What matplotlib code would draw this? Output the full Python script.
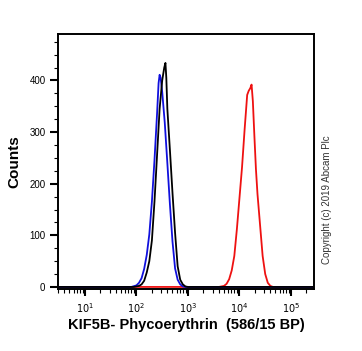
import matplotlib
matplotlib.use("Agg")
import matplotlib.pyplot as plt
import numpy as np
from matplotlib.ticker import LogLocator, MultipleLocator, FixedLocator

plt.rcParams['font.family'] = ['Liberation Sans', 'DejaVu Sans']

# log10 intensity positions and counts
blue_logx = [0.45, 1.90, 2.00, 2.05, 2.10, 2.15, 2.20, 2.25, 2.30, 2.35, 2.40, 2.43, 2.45,
             2.47, 2.50, 2.55, 2.60, 2.65, 2.70, 2.75, 2.80, 2.85, 2.90, 2.95, 5.45]
blue_counts = [0, 0, 3, 8, 17, 35, 62, 102, 165, 245, 335, 395, 411,
               405, 378, 318, 240, 160, 88, 36, 14, 5, 1, 0, 0]

black_logx = [0.45, 1.95, 2.05, 2.10, 2.15, 2.20, 2.25, 2.30, 2.35, 2.40, 2.45, 2.50, 2.54,
              2.563, 2.58, 2.60, 2.65, 2.70, 2.75, 2.80, 2.85, 2.90, 2.95, 3.00, 5.45]
black_counts = [0, 0, 2, 5, 12, 28, 50, 90, 165, 255, 345, 400, 425,
                434, 405, 345, 265, 182, 105, 40, 14, 5, 1, 0, 0]

red_logx = [0.45, 3.60, 3.70, 3.75, 3.80, 3.85, 3.90, 3.95, 4.00, 4.05, 4.10, 4.15, 4.18,
            4.21, 4.235, 4.26, 4.29, 4.32, 4.35, 4.40, 4.45, 4.50, 4.55, 4.60, 4.65, 5.45]
red_counts = [0, 0, 2, 6, 15, 32, 60, 112, 172, 232, 305, 372, 380,
              385, 392, 360, 292, 228, 180, 120, 60, 25, 8, 2, 0, 0]

y_ticks = [0, 100, 200, 300, 400]
x_ticks = [10, 100, 1000, 10000, 100000]
x_labels = [r'$10^1$', r'$10^2$', r'$10^3$', r'$10^4$', r'$10^5$']

fig = plt.figure(figsize=(3.62, 3.51), dpi=100)
ax = fig.add_axes([58/362, 1-289/351, (314-58)/362, (289-34)/351])

ax.plot(10**np.array(red_logx), red_counts, color='#ee1111', lw=1.3)
ax.plot(10**np.array(blue_logx), blue_counts, color='#1010dd', lw=1.3)
ax.plot(10**np.array(black_logx), black_counts, color='black', lw=1.3)

ax.set_xscale('log')
ax.set_xlim(3.0, 2.8e5)
ax.set_ylim(-4, 490)

ax.yaxis.set_major_locator(FixedLocator(y_ticks))
ax.yaxis.set_minor_locator(MultipleLocator(25))
ax.set_xticks(x_ticks)
ax.set_xticklabels(x_labels)
ax.xaxis.set_minor_locator(LogLocator(base=10, subs=np.arange(2, 10)))

ax.tick_params(axis='y', which='major', direction='out', length=6, width=1.5, labelsize=7, pad=3)
ax.tick_params(axis='y', which='minor', direction='out', length=3, width=0.8)
ax.tick_params(axis='x', which='major', direction='out', length=5, width=1.5, labelsize=7, pad=4)
ax.tick_params(axis='x', which='minor', direction='out', length=3, width=0.8)

for s in ax.spines.values():
    s.set_linewidth(1.4)

ax.set_ylabel('Counts', fontsize=11, fontweight='bold', labelpad=6)
ax.set_xlabel('KIF5B- Phycoerythrin  (586/15 BP)', fontsize=10.5, fontweight='bold', labelpad=2)

fig.text(327/362, 1-200/351, 'Copyright (c) 2019 Abcam Plc', rotation=90,
         fontsize=7, color='#333333', ha='center', va='center')

fig.savefig('out.png', dpi=100)
